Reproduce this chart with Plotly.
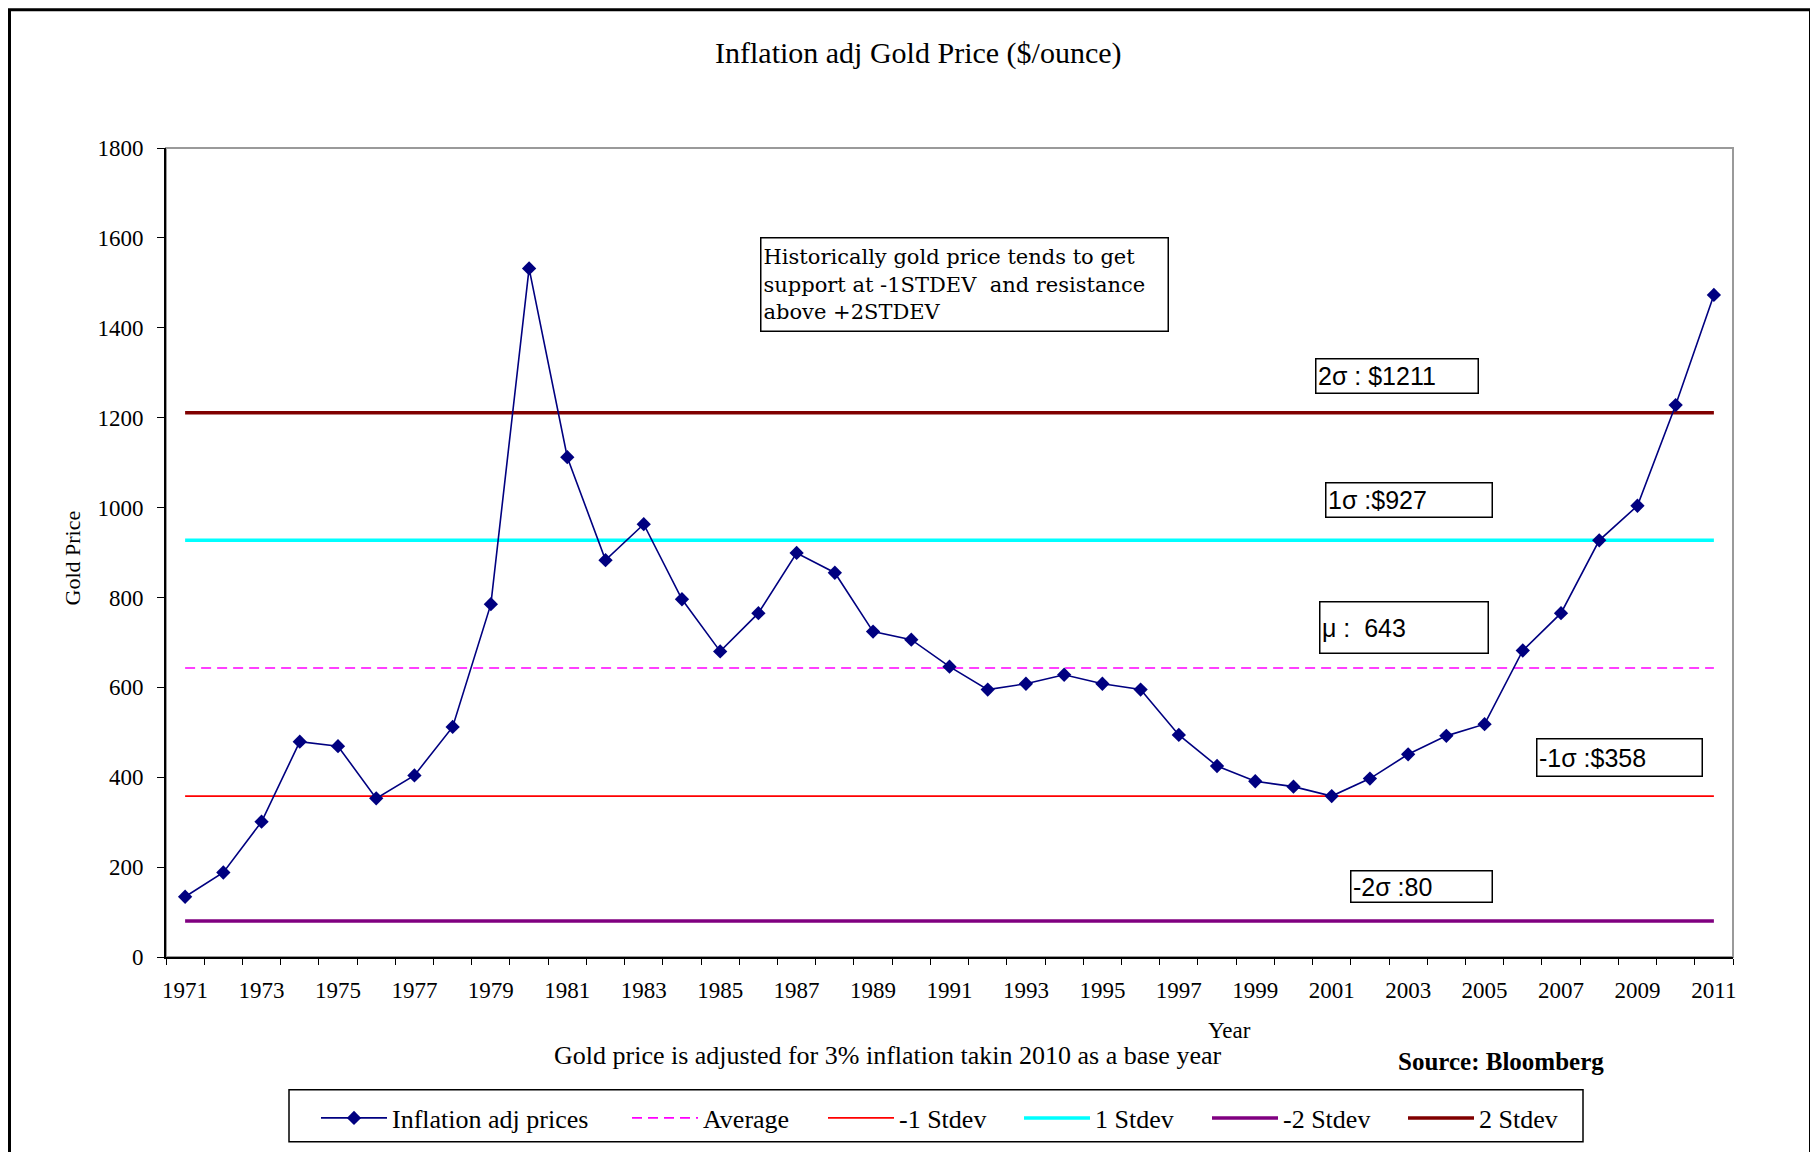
import plotly.graph_objects as go

# ---------------- data ----------------
years = list(range(1971, 2012))
prices = [134, 188, 301, 479, 469, 353, 404, 512, 785, 1532,
          1112, 883, 963, 796, 680, 765, 899, 855, 724, 706,
          646, 595, 608, 628, 608, 595, 494, 425, 391, 379,
          358, 397, 451, 492, 518, 682, 765, 927, 1004, 1228,
          1473]
level_names = ["Average", "-1 Stdev", "1 Stdev", "-2 Stdev", "2 Stdev"]
level_values = [643, 358, 927, 80, 1211]
level_labels = ["\u03bc :  643", "-1\u03c3 :$358", "1\u03c3 :$927", "-2\u03c3 :80", "2\u03c3 : $1211"]
xtick_years = list(range(1971, 2012, 2))
ytick_vals = list(range(0, 1801, 200))

# ---------------- layout helpers (page pixel coords; page has an 8px body margin) ----------------
OFF = 8
W, H = 1810, 1144
L, R, T, B = 166, 1733, 148, 958   # plot area in page pixels


def px(x):
    return (x - L) / (R - L)


def py(y):
    return (B - y) / (B - T)


SERIF = "Liberation Serif, Times New Roman, serif"
SERIF_WIDE = "DejaVu Serif, serif"
SANS = "Liberation Sans, Arial, sans-serif"

level_styles = {
    "Average": dict(color="#FF00FF", width=1.6, dash="10px,6px"),
    "-1 Stdev": dict(color="#FF0000", width=1.6),
    "1 Stdev": dict(color="#00FFFF", width=3.5),
    "-2 Stdev": dict(color="#800080", width=3.5),
    "2 Stdev": dict(color="#800000", width=3.5),
}
legend_w = {"Inflation adj prices": 230, "Average": 115, "-1 Stdev": 115,
            "1 Stdev": 107, "-2 Stdev": 115, "2 Stdev": 90}

fig = go.Figure()

for i, (name, val) in enumerate(zip(level_names, level_values)):
    fig.add_trace(go.Scatter(
        x=years, y=[val] * len(years), mode="lines", name=name,
        line=level_styles[name], legendrank=2 + i, legendwidth=legend_w[name],
        hoverinfo="skip"))

fig.add_trace(go.Scatter(
    x=years, y=prices, mode="lines+markers", name="Inflation adj prices",
    line=dict(color="#000080", width=1.6),
    marker=dict(symbol="diamond", size=11, color="#000080"),
    legendrank=1, legendwidth=legend_w["Inflation adj prices"]))

# ---------------- annotations ----------------
ann = []
ann.append(dict(text="Inflation adj Gold Price ($/ounce)", x=px(918), y=py(53),
                font=dict(family=SERIF, size=30, color="black")))
ann.append(dict(text="Gold Price", x=px(72), y=py(559), textangle=-90,
                font=dict(family=SERIF, size=22, color="black")))
ann.append(dict(text="Year", x=px(1229), y=py(1032),
                font=dict(family=SERIF, size=23, color="black")))
ann.append(dict(text="Gold price is adjusted for 3% inflation takin 2010 as a base year",
                x=px(887), y=py(1057),
                font=dict(family=SERIF, size=26, color="black")))
ann.append(dict(text="<b>Source: Bloomberg</b>", x=px(1501), y=py(1063),
                font=dict(family=SERIF, size=25, color="black")))
ann.append(dict(text="Historically gold price tends to get<br>support at -1STDEV  and resistance<br>above +2STDEV",
                x=px(964), y=py(284.5), width=402, height=88, align="left", valign="middle",
                bordercolor="black", borderwidth=1.5, borderpad=2, bgcolor="white",
                font=dict(family=SERIF_WIDE, size=21, color="black")))

# sigma boxes: (x0, x1, y0, y1) in page pixels
box_px = {
    "Average": (1319, 1489, 602, 655),
    "-1 Stdev": (1536, 1703, 739, 778),
    "1 Stdev": (1325, 1493, 482, 518),
    "-2 Stdev": (1350, 1493, 871, 904),
    "2 Stdev": (1315, 1479, 358, 394),
}
for name, lab in zip(level_names, level_labels):
    x0, x1, y0, y1 = box_px[name]
    ann.append(dict(text=lab, x=px((x0 + x1) / 2), y=py((y0 + y1) / 2),
                    width=x1 - x0 - 6, height=y1 - y0 - 6, align="left", valign="middle",
                    bordercolor="black", borderwidth=1.5, borderpad=1.5, bgcolor="white",
                    font=dict(family=SANS, size=25, color="black")))

for a in ann:
    a.setdefault("xref", "paper")
    a.setdefault("yref", "paper")
    a.setdefault("showarrow", False)
    a.setdefault("xanchor", "center")
    a.setdefault("yanchor", "middle")

shapes = [
    # plot area border (grey)
    dict(type="rect", xref="paper", yref="paper", x0=0, x1=1, y0=0, y1=1,
         line=dict(color="#9a9a9a", width=2), layer="below"),
    # outer chart frame
    dict(type="rect", xref="paper", yref="paper", x0=px(9.5), x1=px(1810.5),
         y0=py(1220), y1=py(9.5), line=dict(color="black", width=3), layer="below"),
    # legend frame
    dict(type="rect", xref="paper", yref="paper", x0=px(289), x1=px(1583),
         y0=py(1143), y1=py(1091), line=dict(color="black", width=1.5), layer="below"),
]

fig.update_layout(
    width=W, height=H,
    margin=dict(l=L - OFF, r=W - (R - OFF), t=T - OFF, b=H - (B - OFF)),
    paper_bgcolor="white", plot_bgcolor="white",
    showlegend=True,
    legend=dict(orientation="h", x=px(316), y=py(1118), xanchor="left", yanchor="middle",
                borderwidth=0, bgcolor="rgba(0,0,0,0)",
                itemwidth=66, font=dict(family=SERIF, size=26, color="black"),
                traceorder="normal"),
    annotations=ann,
    shapes=shapes,
    xaxis=dict(range=[1970.5, 2011.5], tickmode="array", tickvals=xtick_years,
               ticktext=[str(y) for y in xtick_years], ticks="", showgrid=False,
               zeroline=False, showline=True, linecolor="black", linewidth=1.5,
               ticklabelstandoff=12,
               tickfont=dict(family=SERIF, size=23, color="black"),
               minor=dict(tickvals=[y - 0.5 for y in years] + [years[-1] + 0.5],
                          ticks="outside", ticklen=6, tickcolor="black", tickwidth=1.2,
                          showgrid=False)),
    yaxis=dict(range=[0, 1800], tickmode="array", tickvals=ytick_vals, ticks="outside",
               ticklen=7, tickcolor="black", tickwidth=1.2, showgrid=False, zeroline=False,
               showline=True, linecolor="black", linewidth=2,
               ticklabelstandoff=9,
               tickfont=dict(family=SERIF, size=23, color="black")),
)

fig.write_html("out.html")
